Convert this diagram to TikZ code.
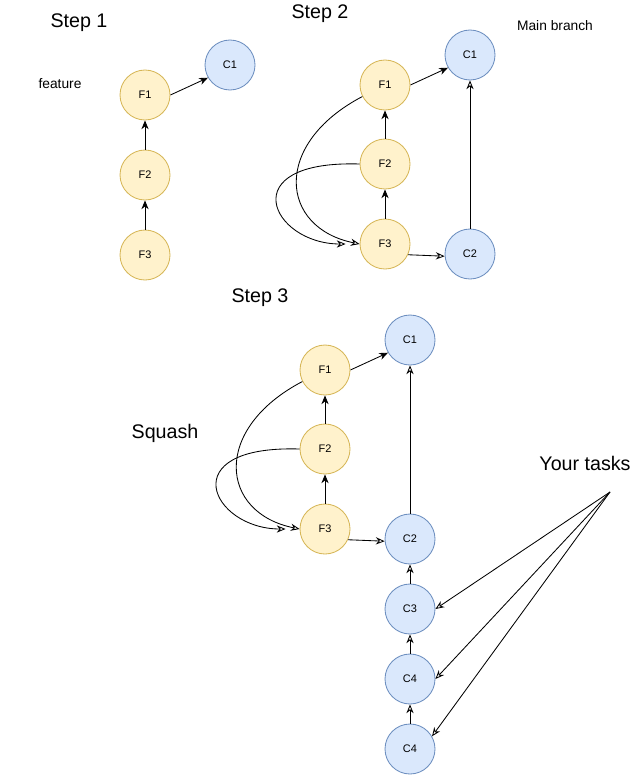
\documentclass[tikz,border=0pt]{standalone}
\usepackage{fontspec}
\setmainfont{Liberation Sans}
\usepackage{xcolor}
\usepackage{tikz}
\usetikzlibrary{positioning}
\usetikzlibrary{arrows.meta}
\pgfdeclarelayer{nodelayer}
\pgfdeclarelayer{edgelayer}
\pgfsetlayers{nodelayer,edgelayer,main}
\definecolor{featfill}{HTML}{FFF2CC}
\definecolor{featline}{HTML}{D6B656}
\definecolor{mainfill}{HTML}{DAE8FC}
\definecolor{mainline}{HTML}{6C8EBF}
\tikzset{
    none/.style = {inner sep=0pt},
    big text/.style = {inner sep=0pt, font=\fontsize{14}{16}\selectfont},
    small text/.style = {inner sep=0pt, font=\fontsize{9.8}{11}\selectfont},
    feature commit/.style = {circle, draw=featline, fill=featfill, line width=0.6pt, minimum size=1.25cm, inner sep=0pt, font=\fontsize{7.8}{9}\selectfont},
    main commit/.style = {circle, draw=mainline, fill=mainfill, line width=0.6pt, minimum size=1.25cm, inner sep=0pt, font=\fontsize{7.8}{9}\selectfont},
    filled tip/.style = {line width=0.6pt, -{Stealth[length=2.2mm, width=1.8mm]}},
    open tip/.style = {line width=0.6pt, -{Stealth[open, length=2.2mm, width=1.8mm]}}
}

\begin{document}
\begin{tikzpicture}
    \useasboundingbox (0, 0) rectangle (16.025, -19.4);
    \begin{pgfonlayer}{nodelayer}
        % step 1
        \node [style=big text] (0) at (1.975, -0.575) {Step 1};
        \node [style=small text] (1) at (1.5, -2.1) {feature};
        \node [style=feature commit] (2) at (3.625, -2.375) {F1};
        \node [style=feature commit] (3) at (3.625, -4.375) {F2};
        \node [style=feature commit] (4) at (3.625, -6.375) {F3};
        \node [style=main commit] (5) at (5.75, -1.625) {C1};
        % step 2
        \node [style=big text] (6) at (8.0, -0.35) {Step 2};
        \node [style=small text] (7) at (13.875, -0.65) {Main branch};
        \node [style=feature commit] (8) at (9.625, -2.125) {F1};
        \node [style=feature commit] (9) at (9.625, -4.1) {F2};
        \node [style=feature commit] (10) at (9.625, -6.1) {F3};
        \node [style=main commit] (11) at (11.75, -1.375) {C1};
        \node [style=main commit] (12) at (11.75, -6.35) {C2};
        % step 3
        \node [style=big text] (13) at (6.5, -7.45) {Step 3};
        \node [style=big text] (14) at (4.125, -10.825) {Squash};
        \node [style=feature commit] (15) at (8.125, -9.25) {F1};
        \node [style=feature commit] (16) at (8.125, -11.225) {F2};
        \node [style=feature commit] (17) at (8.125, -13.225) {F3};
        \node [style=main commit] (18) at (10.25, -8.5) {C1};
        \node [style=main commit] (19) at (10.25, -13.475) {C2};
        \node [style=main commit] (20) at (10.25, -15.225) {C3};
        \node [style=main commit] (21) at (10.25, -16.975) {C4};
        \node [style=main commit] (22) at (10.25, -18.725) {C4};
        \node [style=big text] (23) at (14.625, -11.575) {Your tasks};
        \coordinate (24) at (15.25, -12.3);
    \end{pgfonlayer}
    \begin{pgfonlayer}{edgelayer}
        \draw [style=filled tip] (2.east) to (5.210);
        \draw [style=filled tip] (3) to (2);
        \draw [style=filled tip] (4) to (3);

        \draw [style=filled tip] (8.east) to (11.210);
        \draw [style=filled tip] (9) to (8);
        \draw [style=filled tip] (10) to (9);
        \draw [style=open tip] (10.335) to (12.185);
        \draw [style=open tip] (12) to (11);
        \draw [style=open tip] (8.207) .. controls +(-2.27, -1.19) and +(-2.0, 0.4) .. (10.west);
        \draw [style=open tip, shorten >=0.35cm] (9.west) .. controls +(-3.2, 0.1) and +(-2.2, 0) .. (10.west);

        \draw [style=filled tip] (15.east) to (18.210);
        \draw [style=filled tip] (16) to (15);
        \draw [style=filled tip] (17) to (16);
        \draw [style=open tip] (17.335) to (19.185);
        \draw [style=open tip] (19) to (18);
        \draw [style=open tip] (15.207) .. controls +(-2.27, -1.19) and +(-2.0, 0.4) .. (17.west);
        \draw [style=open tip, shorten >=0.35cm] (16.west) .. controls +(-3.2, 0.1) and +(-2.2, 0) .. (17.west);
        \draw [style=open tip] (20) to (19);
        \draw [style=open tip] (21) to (20);
        \draw [style=open tip] (22) to (21);

        \draw [style=open tip] (24) to (20.east);
        \draw [style=open tip] (24) to (21.east);
        \draw [style=open tip] (24) to (22.30);
    \end{pgfonlayer}
\end{tikzpicture}
\end{document}
